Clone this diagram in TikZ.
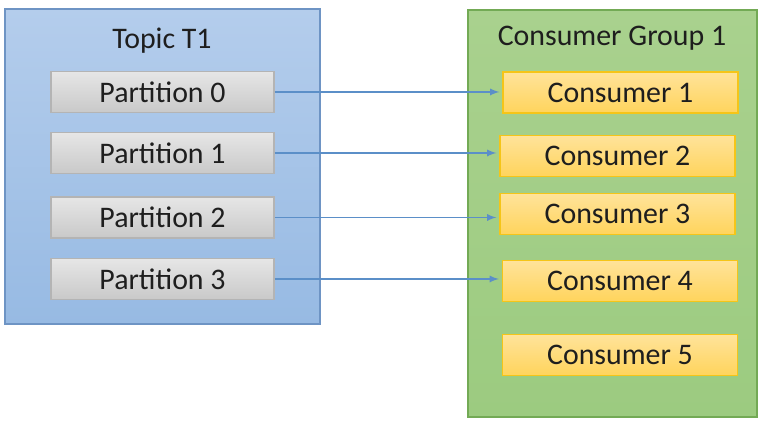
\documentclass[tikz,border=0pt]{standalone}
\usepackage{fontspec}
\setmainfont{Carlito}
\definecolor{topicedge}{HTML}{6E94C4}
\definecolor{topictop}{HTML}{B4CDEC}
\definecolor{topicbottom}{HTML}{97BAE3}
\definecolor{groupedge}{HTML}{73AA55}
\definecolor{grouptop}{HTML}{A9D18E}
\definecolor{groupbottom}{HTML}{9CCB80}
\definecolor{partedge}{HTML}{B4B4B4}
\definecolor{parttop}{HTML}{E6E6E6}
\definecolor{partbottom}{HTML}{C9C9C9}
\definecolor{consedge}{HTML}{F5C518}
\definecolor{constop}{HTML}{FFE39A}
\definecolor{consbottom}{HTML}{FFD45C}
\definecolor{feedline}{HTML}{5B8FC8}
\definecolor{inktext}{HTML}{1E1E1E}

\begin{document}
\begin{tikzpicture}[x=0.02cm,y=-0.02cm,
    bigfont/.style={font=\fontsize{17}{20}\selectfont,text=inktext},
    topicbox/.style={draw=topicedge,line width=0.8pt,top color=topictop,bottom color=topicbottom,
        minimum width=6.3cm,minimum height=6.3cm},
    groupbox/.style={draw=groupedge,line width=0.8pt,top color=grouptop,bottom color=groupbottom,
        minimum width=5.78cm,minimum height=8.14cm},
    partbox/.style={bigfont,draw=partedge,line width=0.6pt,top color=parttop,bottom color=partbottom,
        minimum width=4.46cm,minimum height=0.82cm,inner sep=0pt},
    consbox/.style={bigfont,draw=consedge,line width=0.8pt,top color=constop,bottom color=consbottom,
        minimum width=4.7cm,minimum height=0.82cm,inner sep=0pt},
    feed/.style={-latex,feedline,line width=0.8pt,shorten >=0.06cm}]

    \useasboundingbox (0,0) rectangle (764,431);

    % The two containers and their titles
    \node (topic) [topicbox] at (162.5,166.5) {};
    \node (topictitle) [bigfont] at (162,41) {Topic T1};
    \node (group) [groupbox] at (612.5,213.5) {};
    \node (grouptitle) [bigfont] at (612,38) {Consumer Group 1};

    % Partitions of the topic
    \foreach \i/\y in {0/92,1/153,2/217.5,3/279} {
        \node (p\i) [partbox] at (162.5,\y) {Partition \i};
    }

    % Consumers of the group
    \foreach \i/\x/\y in {1/620.5/92.5,2/617.5/156,3/617.5/214,4/620/281,5/620/355} {
        \node (c\i) [consbox] at (\x,\y) {Consumer \i};
    }

    % One partition feeds one consumer
    \foreach \i/\j in {0/1,1/2,2/3,3/4} {
        \draw [feed] (p\i.east) -- (p\i.east -| c\j.west);
    }

\end{tikzpicture}
\end{document}
